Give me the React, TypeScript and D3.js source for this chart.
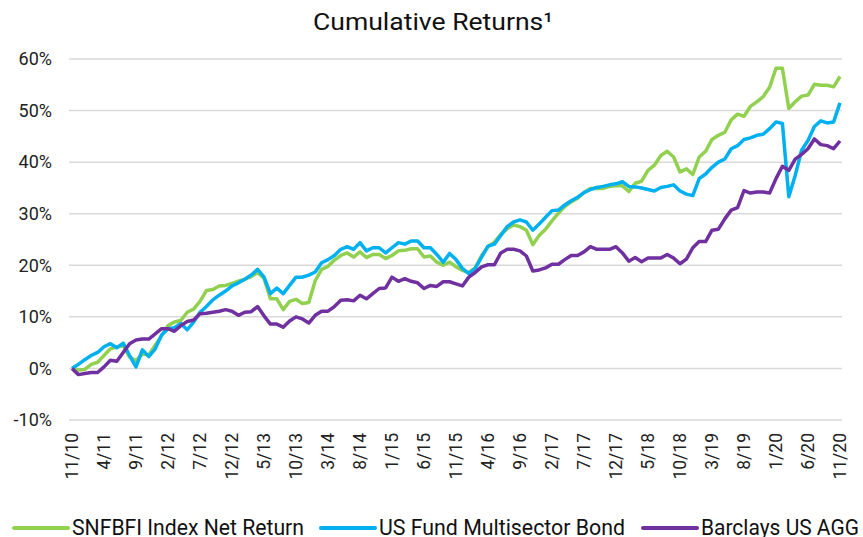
import { useEffect, useRef } from "react";
import * as d3 from "d3";

// monthly cumulative returns (%), 11/10 .. 11/20
const snfbfi = [
  0, -0.3, -0.2, 0.8, 1.2, 2.5, 3.8, 4.2, 4.4, 2.2, 1.5, 2.8, 2.6, 4.5, 6.3, 8.3, 9.0, 9.3, 10.9, 11.5,
  13.0, 15.1, 15.3, 16.0, 16.1, 16.5, 16.9, 17.3, 17.8, 18.6, 17.5, 13.5, 13.5, 11.4, 13.0, 13.4, 12.6, 12.8, 17.0, 19.2,
  19.8, 21.0, 21.9, 22.4, 21.6, 22.6, 21.5, 22.1, 22.1, 21.3, 21.9, 22.8, 22.9, 23.2, 23.2, 21.6, 21.8, 20.6, 20.0, 20.6,
  19.7, 19.0, 18.6, 19.5, 21.9, 23.6, 24.5, 26.0, 27.1, 27.8, 27.5, 26.8, 24.0, 25.8, 27.0, 28.6, 30.1, 31.4, 32.3, 33.0,
  34.1, 34.9, 34.9, 34.9, 35.3, 35.4, 35.4, 34.3, 35.9, 36.3, 38.4, 39.4, 41.3, 42.1, 41.0, 38.1, 38.7, 37.6, 41.0, 42.1,
  44.4, 45.2, 45.8, 48.2, 49.3, 48.9, 50.8, 51.7, 52.7, 54.5, 58.2, 58.2, 50.4, 51.7, 52.8, 53.0, 55.1, 54.9, 54.9, 54.6,
  56.6,
];

const multisector = [
  0, 0.8, 1.7, 2.5, 3.1, 4.2, 4.8, 4.0, 4.9, 2.5, 0.3, 3.6, 2.3, 3.8, 6.5, 7.7, 7.9, 8.7, 7.5, 9.0,
  10.9, 12.0, 13.3, 14.2, 15.0, 16.0, 16.6, 17.3, 18.1, 19.2, 17.7, 14.5, 15.6, 14.5, 16.1, 17.7, 17.7, 18.1, 18.7, 20.5,
  21.1, 21.9, 23.1, 23.6, 23.1, 24.4, 22.8, 23.4, 23.4, 22.4, 23.4, 24.4, 24.1, 24.7, 24.7, 23.4, 23.4, 22.1, 20.6, 22.3,
  21.1, 19.4, 18.4, 19.4, 21.6, 23.7, 24.1, 25.8, 27.5, 28.4, 28.8, 28.4, 26.8, 28.0, 29.3, 30.6, 30.7, 31.7, 32.5, 33.2,
  34.1, 34.7, 35.1, 35.3, 35.6, 35.8, 36.2, 35.3, 35.2, 35.0, 34.7, 34.4, 35.1, 35.3, 35.6, 34.4, 33.8, 33.5, 36.8, 37.7,
  39.0, 40.0, 40.6, 42.6, 43.2, 44.4, 44.7, 45.2, 45.4, 46.5, 47.8, 47.5, 33.3, 37.4, 42.3, 44.2, 46.9, 48.0, 47.6, 47.8,
  51.5,
];

const barclaysAgg = [
  0, -1.2, -1.0, -0.8, -0.8, 0.3, 1.6, 1.4, 3.1, 4.8, 5.5, 5.7, 5.7, 6.7, 7.7, 7.7, 7.2, 8.3, 9.1, 9.4,
  10.6, 10.7, 10.9, 11.1, 11.4, 11.1, 10.3, 10.9, 11.0, 12.0, 10.2, 8.6, 8.6, 8.0, 9.2, 10.0, 9.6, 8.8, 10.3, 11.1,
  11.1, 12.0, 13.2, 13.3, 13.1, 14.2, 13.5, 14.5, 15.5, 15.6, 17.7, 16.9, 17.4, 16.9, 16.6, 15.5, 16.1, 15.9, 16.8, 16.8,
  16.4, 16.0, 17.7, 18.6, 19.7, 20.1, 20.1, 22.4, 23.1, 23.1, 22.8, 21.8, 18.9, 19.1, 19.5, 20.2, 20.2, 21.1, 21.9, 21.9,
  22.6, 23.6, 23.1, 23.1, 23.1, 23.6, 22.4, 20.8, 21.5, 20.7, 21.4, 21.4, 21.4, 22.1, 21.4, 20.3, 21.2, 23.4, 24.6, 24.6,
  26.8, 27.0, 29.0, 30.7, 31.2, 34.5, 34.0, 34.2, 34.2, 34.0, 36.8, 39.2, 38.4, 40.6, 41.5, 42.6, 44.5, 43.4, 43.2, 42.6,
  44.1,
];

const months = d3.timeMonth.range(new Date(2010, 10, 1), new Date(2020, 11, 1));
const monthLabels = months.map((d) => `${d.getMonth() + 1}/${String(d.getFullYear()).slice(2)}`);
const yTicks = [-10, 0, 10, 20, 30, 40, 50, 60];

const series = [
  { name: "SNFBFI Index Net Return", values: snfbfi, color: "#92D050" },
  { name: "US Fund Multisector Bond", values: multisector, color: "#00B0F0" },
  { name: "Barclays US AGG", values: barclaysAgg, color: "#7030A0" },
];

const width = 863;
const height = 537;

export default function App() {
  const ref = useRef<SVGSVGElement>(null);

  useEffect(() => {
    const svg = d3.select(ref.current);
    svg.selectAll("*").remove();

    const font = "Roboto, 'Noto Sans', sans-serif";

    const x = d3
      .scalePoint<number>()
      .domain(d3.range(monthLabels.length))
      .range([72, 840]);
    const y = d3.scaleLinear().domain([-10, 60]).range([420, 59]);

    // title
    svg
      .append("text")
      .attr("x", 313)
      .attr("y", 30)
      .attr("font-family", font)
      .attr("font-size", 24.5)
      .attr("fill", "#111")
      .attr("textLength", 240)
      .attr("lengthAdjust", "spacingAndGlyphs")
      .text("Cumulative Returns¹");

    // gridlines
    svg
      .append("g")
      .selectAll("line")
      .data(yTicks)
      .join("line")
      .attr("x1", 69)
      .attr("x2", 842)
      .attr("y1", (d) => y(d))
      .attr("y2", (d) => y(d))
      .attr("stroke", "#d9d9d9")
      .attr("stroke-width", 1.5);

    // y labels
    svg
      .append("g")
      .selectAll("text")
      .data(yTicks)
      .join("text")
      .attr("x", 52)
      .attr("y", (d) => y(d))
      .attr("dy", "0.35em")
      .attr("text-anchor", "end")
      .attr("font-family", font)
      .attr("font-size", 18)
      .attr("fill", "#222")
      .text((d) => d + "%");

    // x labels, every 5 months
    const tickIdx = d3.range(0, monthLabels.length, 5);
    svg
      .append("g")
      .selectAll("text")
      .data(tickIdx)
      .join("text")
      .attr("transform", (i) => `translate(${x(i)},433) rotate(-90)`)
      .attr("dy", "0.35em")
      .attr("text-anchor", "end")
      .attr("font-family", font)
      .attr("font-size", 17.5)
      .attr("fill", "#222")
      .text((i) => monthLabels[i]);

    // lines
    const line = d3
      .line<number>()
      .x((_, i) => x(i) as number)
      .y((d) => y(d));

    series.forEach((s) => {
      svg
        .append("path")
        .datum(s.values)
        .attr("fill", "none")
        .attr("stroke", s.color)
        .attr("stroke-width", 3.5)
        .attr("stroke-linejoin", "round")
        .attr("d", line);
    });

    // legend
    const legendX = [14, 321, 643];
    const legendW = [232, 246, 158];
    const legend = svg
      .append("g")
      .selectAll("g")
      .data(series)
      .join("g")
      .attr("transform", (_, i) => `translate(${legendX[i]},528)`);
    legend
      .append("line")
      .attr("x1", 0)
      .attr("x2", 54)
      .attr("stroke", (d) => d.color)
      .attr("stroke-width", 4)
      .attr("stroke-linecap", "round");
    legend
      .append("text")
      .attr("x", 58)
      .attr("y", 7)
      .attr("font-family", font)
      .attr("font-size", 21.5)
      .attr("fill", "#111")
      .attr("textLength", (_, i) => legendW[i])
      .attr("lengthAdjust", "spacingAndGlyphs")
      .text((d) => d.name);
  }, []);

  return (
    <svg
      ref={ref}
      width={width}
      height={height}
      style={{ position: "absolute", left: 0, top: 0, background: "#fff" }}
    />
  );
}
